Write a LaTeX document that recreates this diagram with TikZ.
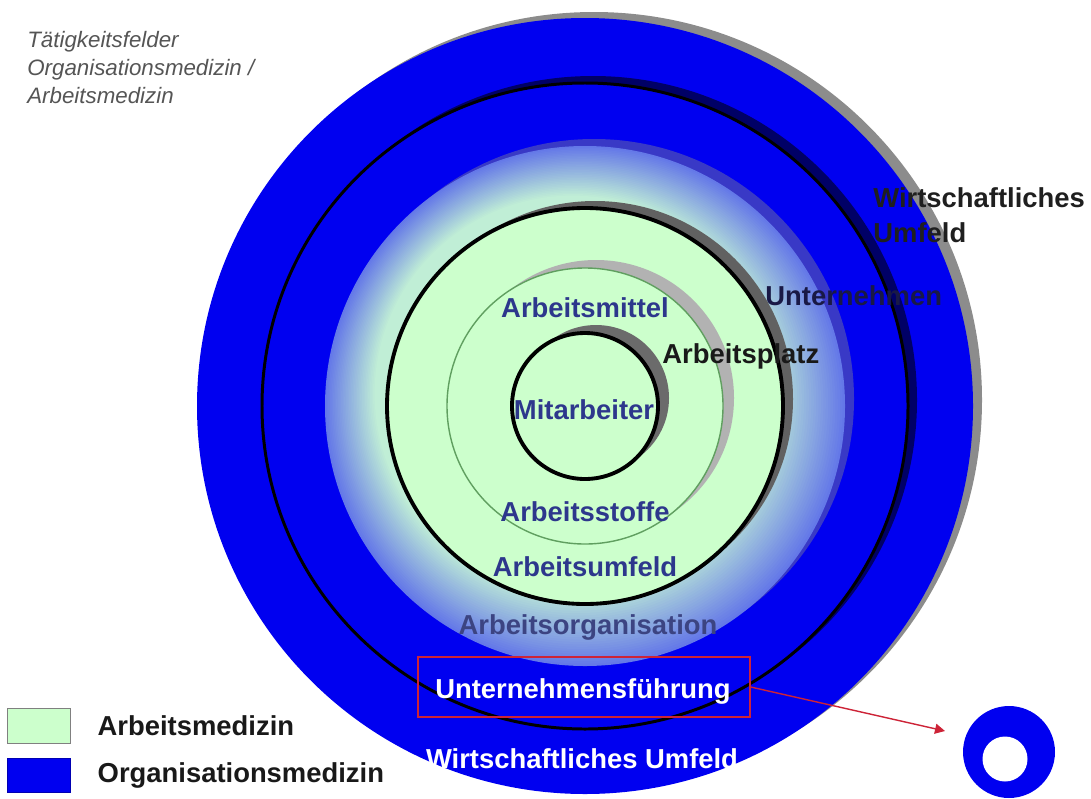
\documentclass[tikz,border=0pt]{standalone}
\usepackage{fontspec}
\setmainfont{Liberation Sans}
\usepackage{xcolor}
\usepackage{tikz}
\usetikzlibrary{positioning}
\usetikzlibrary{calc}
\usetikzlibrary{arrows.meta}
\definecolor{omblue}{RGB}{0,0,240}
\definecolor{amgreen}{RGB}{204,255,204}
\definecolor{lblnavy}{RGB}{45,55,140}
\definecolor{orgnavy}{RGB}{60,68,130}
\definecolor{untnavy}{RGB}{25,25,70}
\definecolor{headgray}{RGB}{85,85,85}
\definecolor{redline}{RGB}{205,35,55}
\definecolor{orggreen}{RGB}{192,238,214}
\definecolor{orgblue}{RGB}{100,120,232}
\tikzset{
    lbl/.style = {font=\bfseries\fontsize{15.6}{18}\selectfont, text=lblnavy, inner sep=0},
    lblw/.style = {lbl, text=white},
    legbox/.style = {draw=gray, minimum width=1.26cm, inner sep=0},
    pfeil/.style = {-{Triangle[length=2mm,width=2mm]}, redline, line width=0.8pt},
}

\begin{document}
\begin{tikzpicture}[x=0.02cm, y=-0.02cm]
\useasboundingbox (0,0) rectangle (1091,798);
\clip (0,0) rectangle (1091,798);
\coordinate (m) at (585,406);
% Wirtschaftliches Umfeld
\fill[gray!90] ($(m)+(9,-6)$) circle[radius=388];
\fill[omblue] (m) circle[radius=388];
% Unternehmen
\fill[blue!40!black] ($(m)+(8,-6)$) circle[radius=324];
\draw[fill=omblue, line width=1.7pt] (m) circle[radius=323];
% Arbeitsorganisation (Verlauf)
\fill[blue!55!gray] ($(m)+(9,-7)$) circle[radius=260];
\foreach \i in {0,...,31} {
    \pgfmathsetmacro\rad{260-2*\i}
    \pgfmathsetmacro\anteil{100-100*\i/31}
    \pgfmathsetmacro\versatz{-0.4*\i}
    \fill[orgblue!\anteil!orggreen] ($(m)+(\versatz,\versatz)$) circle[radius=\rad];
}
% Arbeitsplatz
\fill[black!62] ($(m)+(10,-7)$) circle[radius=198];
\draw[fill=amgreen, line width=2.2pt] (m) circle[radius=198];
% Arbeitsmittel
\fill[black!30] ($(m)+(11,-8)$) circle[radius=138];
\draw[fill=amgreen, draw=green!25!gray, line width=0.8pt] (m) circle[radius=138];
% Mitarbeiter
\fill[black!58] ($(m)+(11,-8)$) circle[radius=73];
\draw[fill=amgreen, line width=2.2pt] (m) circle[radius=73];
%
\node[anchor=north west, align=left, inner sep=0, text=headgray,
      font=\itshape\fontsize{12.7}{15.9}\selectfont] (titel) at (27,31)
      {Tätigkeitsfelder\\Organisationsmedizin /\\Arbeitsmedizin};
\node[lbl, text=black!88, anchor=north west, align=left,
      font=\bfseries\fontsize{15.6}{19.8}\selectfont] (wirtrechts) at (873,187)
      {Wirtschaftliches\\Umfeld};
\node[lbl, text=untnavy, anchor=base west] (untern) at (765,305) {Unternehmen};
\node[lbl, text=black!90, anchor=base west] (platz) at (662,363) {Arbeitsplatz};
\node[lbl, anchor=base] (mittel) at (585,317) {Arbeitsmittel};
\node[lbl, anchor=base] (mitarb) at (584,419) {Mitarbeiter};
\node[lbl, anchor=base] (stoffe) at (585,521) {Arbeitsstoffe};
\node[lbl, anchor=base] (umfeld) at (585,576) {Arbeitsumfeld};
\node[lbl, text=orgnavy, anchor=base] (organis) at (588,634) {Arbeitsorganisation};
\node[lblw, anchor=base] (fuehrung) at (583,698) {Unternehmensführung};
\node[lblw, anchor=base] (wirtunten) at (582,768) {Wirtschaftliches Umfeld};
%
\node[draw=redline, line width=0.85pt, minimum width=6.64cm, minimum height=1.2cm,
      inner sep=0] (fuehrbox) at (584,687) {};
\node[circle, fill=omblue, minimum size=1.84cm, inner sep=0] (mini) at (1009,752) {};
\node[circle, fill=white, minimum size=0.9cm, inner sep=0] (miniloch) at (1005,759) {};
\coordinate (pfeilziel) at (945,731);
\draw[pfeil] (fuehrbox.east) -- (pfeilziel);
% Legende
\node[legbox, fill=amgreen, minimum height=0.7cm] (legam) at (38.5,725.5) {};
\node[legbox, fill=omblue, draw=blue!70!black, minimum height=0.68cm] (legom) at (38.5,775) {};
\node[lbl, text=black!90, right=0.54cm of legam] (txtam) {Arbeitsmedizin};
\node[lbl, text=black!90, right=0.54cm of legom] (txtom) {Organisationsmedizin};
\end{tikzpicture}
\end{document}
